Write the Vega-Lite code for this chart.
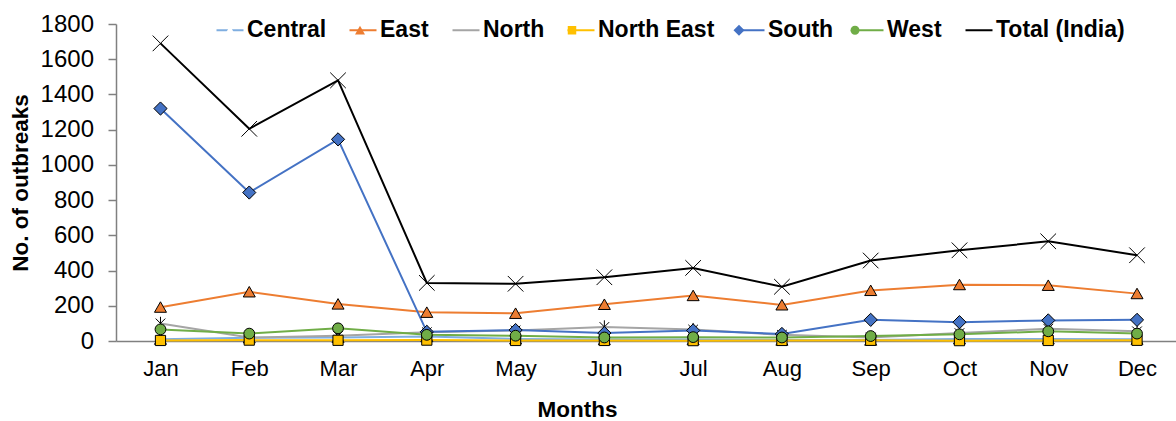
{
  "$schema": "https://vega.github.io/schema/vega-lite/v6.json",
  "width": 1060,
  "height": 317,
  "autosize": {"type": "none"},
  "padding": {"left": 116, "top": 24, "right": 0, "bottom": 80},
  "background": "white",
  "config": {"view": {"stroke": null}, "font": "Liberation Sans"},
  "data": {
    "values": [
      {"month": "Jan", "region": "Central", "value": 10},
      {"month": "Feb", "region": "Central", "value": 18},
      {"month": "Mar", "region": "Central", "value": 20},
      {"month": "Apr", "region": "Central", "value": 25},
      {"month": "May", "region": "Central", "value": 12},
      {"month": "Jun", "region": "Central", "value": 8},
      {"month": "Jul", "region": "Central", "value": 8},
      {"month": "Aug", "region": "Central", "value": 5},
      {"month": "Sep", "region": "Central", "value": 5},
      {"month": "Oct", "region": "Central", "value": 12},
      {"month": "Nov", "region": "Central", "value": 12},
      {"month": "Dec", "region": "Central", "value": 10},
      {"month": "Jan", "region": "East", "value": 192},
      {"month": "Feb", "region": "East", "value": 279},
      {"month": "Mar", "region": "East", "value": 210},
      {"month": "Apr", "region": "East", "value": 163},
      {"month": "May", "region": "East", "value": 157},
      {"month": "Jun", "region": "East", "value": 208},
      {"month": "Jul", "region": "East", "value": 258},
      {"month": "Aug", "region": "East", "value": 205},
      {"month": "Sep", "region": "East", "value": 287},
      {"month": "Oct", "region": "East", "value": 320},
      {"month": "Nov", "region": "East", "value": 316},
      {"month": "Dec", "region": "East", "value": 269},
      {"month": "Jan", "region": "North", "value": 100},
      {"month": "Feb", "region": "North", "value": 20},
      {"month": "Mar", "region": "North", "value": 30},
      {"month": "Apr", "region": "North", "value": 50},
      {"month": "May", "region": "North", "value": 60},
      {"month": "Jun", "region": "North", "value": 80},
      {"month": "Jul", "region": "North", "value": 65},
      {"month": "Aug", "region": "North", "value": 35},
      {"month": "Sep", "region": "North", "value": 20},
      {"month": "Oct", "region": "North", "value": 45},
      {"month": "Nov", "region": "North", "value": 70},
      {"month": "Dec", "region": "North", "value": 55},
      {"month": "Jan", "region": "North East", "value": 3},
      {"month": "Feb", "region": "North East", "value": 5},
      {"month": "Mar", "region": "North East", "value": 4},
      {"month": "Apr", "region": "North East", "value": 5},
      {"month": "May", "region": "North East", "value": 3},
      {"month": "Jun", "region": "North East", "value": 3},
      {"month": "Jul", "region": "North East", "value": 2},
      {"month": "Aug", "region": "North East", "value": 3},
      {"month": "Sep", "region": "North East", "value": 4},
      {"month": "Oct", "region": "North East", "value": 2},
      {"month": "Nov", "region": "North East", "value": 3},
      {"month": "Dec", "region": "North East", "value": 4},
      {"month": "Jan", "region": "South", "value": 1320},
      {"month": "Feb", "region": "South", "value": 843},
      {"month": "Mar", "region": "South", "value": 1145},
      {"month": "Apr", "region": "South", "value": 52},
      {"month": "May", "region": "South", "value": 62},
      {"month": "Jun", "region": "South", "value": 45},
      {"month": "Jul", "region": "South", "value": 60},
      {"month": "Aug", "region": "South", "value": 40},
      {"month": "Sep", "region": "South", "value": 120},
      {"month": "Oct", "region": "South", "value": 107},
      {"month": "Nov", "region": "South", "value": 117},
      {"month": "Dec", "region": "South", "value": 120},
      {"month": "Jan", "region": "West", "value": 66},
      {"month": "Feb", "region": "West", "value": 42},
      {"month": "Mar", "region": "West", "value": 72},
      {"month": "Apr", "region": "West", "value": 35},
      {"month": "May", "region": "West", "value": 30},
      {"month": "Jun", "region": "West", "value": 20},
      {"month": "Jul", "region": "West", "value": 22},
      {"month": "Aug", "region": "West", "value": 20},
      {"month": "Sep", "region": "West", "value": 28},
      {"month": "Oct", "region": "West", "value": 38},
      {"month": "Nov", "region": "West", "value": 55},
      {"month": "Dec", "region": "West", "value": 42},
      {"month": "Jan", "region": "Total (India)", "value": 1690},
      {"month": "Feb", "region": "Total (India)", "value": 1205},
      {"month": "Mar", "region": "Total (India)", "value": 1480},
      {"month": "Apr", "region": "Total (India)", "value": 330},
      {"month": "May", "region": "Total (India)", "value": 325},
      {"month": "Jun", "region": "Total (India)", "value": 362},
      {"month": "Jul", "region": "Total (India)", "value": 415},
      {"month": "Aug", "region": "Total (India)", "value": 308},
      {"month": "Sep", "region": "Total (India)", "value": 457},
      {"month": "Oct", "region": "Total (India)", "value": 515},
      {"month": "Nov", "region": "Total (India)", "value": 566},
      {"month": "Dec", "region": "Total (India)", "value": 487}
    ]
  },
  "encoding": {
    "x": {
      "field": "month",
      "type": "ordinal",
      "sort": ["Jan", "Feb", "Mar", "Apr", "May", "Jun", "Jul", "Aug", "Sep", "Oct", "Nov", "Dec"],
      "scale": {"type": "point", "padding": 0.47, "align": 0.533},
      "axis": {
        "title": "Months",
        "labelAngle": 0,
        "ticks": false,
        "tickSize": 0,
        "grid": false,
        "domainColor": "#808080",
        "domainWidth": 1.5,
        "labelFont": "Liberation Sans",
        "labelFontSize": 22,
        "labelColor": "#000000",
        "labelPadding": 17,
        "titleFont": "Liberation Sans",
        "titleFontSize": 22.5,
        "titleFontWeight": "bold",
        "titleColor": "#000000",
        "titleX": 461,
        "titleY": 75.5,
        "titleAlign": "center",
        "titleBaseline": "alphabetic"
      }
    },
    "y": {
      "field": "value",
      "type": "quantitative",
      "scale": {"domain": [0, 1800], "nice": false},
      "axis": {
        "title": "No. of outbreaks",
        "values": [0, 200, 400, 600, 800, 1000, 1200, 1400, 1600, 1800],
        "format": "d",
        "grid": false,
        "domainColor": "#808080",
        "domainWidth": 1.5,
        "tickColor": "#808080",
        "tickWidth": 1.5,
        "tickSize": 8,
        "labelFont": "Liberation Sans",
        "labelFontSize": 24,
        "labelColor": "#000000",
        "labelPadding": 14.5,
        "labelOverlap": false,
        "titleFont": "Liberation Sans",
        "titleFontSize": 22.5,
        "titleFontWeight": "bold",
        "titleColor": "#000000",
        "titlePadding": 8
      }
    }
  },
  "layer": [
    {
      "mark": {"type": "line", "strokeWidth": 2},
      "encoding": {
        "stroke": {
          "field": "region",
          "type": "nominal",
          "sort": ["Central", "East", "North", "North East", "South", "West", "Total (India)"],
          "scale": {"range": ["#7FAEE0", "#ED7D31", "#A5A5A5", "#FFC000", "#4472C4", "#70AD47", "#000000"]},
          "legend": {
            "title": null,
            "orient": "none",
            "legendX": 99.5,
            "legendY": -5.5,
            "direction": "horizontal",
            "columns": 7,
            "symbolType": "M-2.7,0H2.7",
            "symbolSize": 100,
            "symbolStrokeWidth": 2,
            "symbolOffset": 3,
            "labelFont": "Liberation Sans",
            "labelFontSize": 23,
            "labelFontWeight": "bold",
            "labelColor": "#000000",
            "labelOffset": 5.5,
            "labelLimit": 400,
            "columnPadding": 19,
            "rowPadding": 0,
            "padding": 0,
            "zindex": 0
          }
        }
      }
    },
    {
      "mark": {"type": "point", "filled": true, "size": 144, "stroke": "#000000", "opacity": 1},
      "encoding": {
        "shape": {
          "field": "region",
          "type": "nominal",
          "scale": {
            "domain": ["Central", "East", "North", "North East", "South", "West", "Total (India)"],
            "range": [
              "M0,-0.9L1,0.85L-1,0.85Z",
              "M0,-0.9L1,0.85L-1,0.85Z",
              "M-0.8,-0.8L0.8,0.8M-0.8,0.8L0.8,-0.8M0,-1.1V1.1",
              "M-0.85,-0.85H0.85V0.85H-0.85Z",
              "M0,-1.1L1.1,0L0,1.1L-1.1,0Z",
              "M0.9,0A0.9,0.9,0,1,1,-0.9,0A0.9,0.9,0,1,1,0.9,0Z",
              "M-1.3,-1.3L1.3,1.3M-1.3,1.3L1.3,-1.3"
            ]
          },
          "legend": {
            "title": null,
            "orient": "none",
            "legendX": 99.5,
            "legendY": -5.5,
            "direction": "horizontal",
            "columns": 7,
            "symbolSize": 100,
            "symbolStrokeColor": "#000000",
            "symbolStrokeWidth": 1,
            "symbolOffset": 3,
            "labelFont": "Liberation Sans",
            "labelFontSize": 23,
            "labelFontWeight": "bold",
            "labelColor": "#000000",
            "labelOpacity": 0,
            "labelOffset": 5.5,
            "labelLimit": 400,
            "columnPadding": 19,
            "rowPadding": 0,
            "padding": 0,
            "zindex": 1
          }
        },
        "fill": {
          "field": "region",
          "type": "nominal",
          "scale": {
            "domain": ["Central", "East", "North", "North East", "South", "West", "Total (India)"],
            "range": ["#FFFFFF", "#ED7D31", "transparent", "#FFC000", "#4472C4", "#70AD47", "transparent"]
          },
          "legend": {
            "title": null,
            "orient": "none",
            "legendX": 99.5,
            "legendY": -5.5,
            "direction": "horizontal",
            "columns": 7,
            "symbolSize": 100,
            "symbolStrokeColor": "#000000",
            "symbolStrokeWidth": 1,
            "symbolOffset": 3,
            "labelFont": "Liberation Sans",
            "labelFontSize": 23,
            "labelFontWeight": "bold",
            "labelColor": "#000000",
            "labelOpacity": 0,
            "labelOffset": 5.5,
            "labelLimit": 400,
            "columnPadding": 19,
            "rowPadding": 0,
            "padding": 0,
            "zindex": 1
          }
        },
        "strokeWidth": {
          "field": "region",
          "type": "nominal",
          "scale": {
            "domain": ["Central", "East", "North", "North East", "South", "West", "Total (India)"],
            "range": [1, 1, 1.5, 1, 1, 1, 2]
          },
          "legend": null
        }
      }
    }
  ]
}
